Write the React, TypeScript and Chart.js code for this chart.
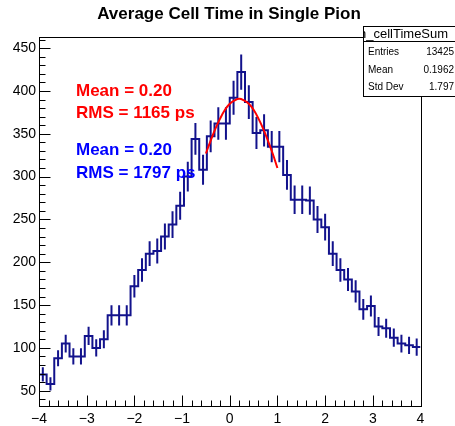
import React, { useEffect, useRef } from "react";
import { Chart, registerables } from "chart.js";

Chart.register(...registerables);

// ---- data ----
const xMin = -4;
const xMax = 4;
const binWidth = 0.16;
const counts = [
  69, 58, 88, 105, 90, 90, 114, 100, 110, 138,
  138, 138, 172, 191, 210, 213, 230, 244, 266, 300,
  344, 308, 347, 362, 362, 392, 422, 387, 351, 354,
  335, 335, 302, 273, 273, 272, 250, 241, 210, 191,
  180, 166, 145, 149, 125, 123, 112, 105, 103, 101,
];
const xTicks = [-4, -3, -2, -1, 0, 1, 2, 3, 4];
const yTicks = [50, 100, 150, 200, 250, 300, 350, 400, 450];
const yMin = 31;
const yMax = 463;
const fitX = [-0.5, -0.4, -0.3, -0.2, -0.1, 0.0, 0.1, 0.2, 0.3, 0.4, 0.5, 0.6, 0.7, 0.8, 0.9, 1.0];
const fitY = [327, 342, 356, 368, 378, 385, 389, 391, 389, 385, 378, 368, 356, 342, 327, 310];
const titleText = "Average Cell Time in Single Pion";
const statsName = "h_cellTimeSum";
const statsLabels = ["Entries", "Mean", "Std Dev"];
const statsValues = ["13425", "0.1962", "1.797"];
const fitLines = ["Mean = 0.20", "RMS = 1165 ps"];
const histLines = ["Mean = 0.20", "RMS = 1797 ps"];

const FONT = "'Liberation Sans', Arial, Helvetica, sans-serif";
const HIST_COLOR = "#12128c";
const FIT_COLOR = "#ff0000";

const fmt = (v: number) => (v < 0 ? "\u2212" + String(-v) : String(v));

const rootPlugin = {
  id: "rootStyle",
  beforeDatasetsDraw(chart: any) {
    const { ctx, scales } = chart;
    const xs = scales.x;
    const ys = scales.y;
    ctx.save();
    ctx.strokeStyle = HIST_COLOR;
    ctx.lineWidth = 2;
    ctx.beginPath();
    counts.forEach((c, i) => {
      const xc = xMin + (i + 0.5) * binWidth;
      const err = Math.sqrt(c);
      const px = xs.getPixelForValue(xc);
      ctx.moveTo(px, ys.getPixelForValue(c - err));
      ctx.lineTo(px, ys.getPixelForValue(c + err));
    });
    ctx.stroke();
    ctx.restore();
  },
  afterDatasetsDraw(chart: any) {
    const { ctx, chartArea, scales } = chart;
    const xs = scales.x;
    const ys = scales.y;
    const L = Math.round(chartArea.left) + 0.5;
    const R = Math.round(chartArea.right) + 0.5;
    const T = Math.round(chartArea.top) + 0.5;
    const B = Math.round(chartArea.bottom) - 0.5;
    ctx.save();
    ctx.strokeStyle = "#000";
    ctx.lineWidth = 1;
    ctx.strokeRect(L, T, R - L, B - T);
    ctx.beginPath();
    // x ticks (inward, upward)
    for (let k = 0; k <= 40; k++) {
      const v = xMin + k * 0.2;
      const px = Math.round(xs.getPixelForValue(v)) + 0.5;
      const len = k % 5 === 0 ? 11 : 6;
      ctx.moveTo(px, B);
      ctx.lineTo(px, B - len);
    }
    // y ticks (inward, rightward)
    for (let v = Math.ceil(yMin / 10) * 10; v <= yMax; v += 10) {
      const py = Math.round(ys.getPixelForValue(v)) + 0.5;
      const len = v % 50 === 0 ? 11 : 6;
      ctx.moveTo(L, py);
      ctx.lineTo(L + len, py);
    }
    ctx.stroke();
    ctx.restore();
  },
  afterDraw(chart: any) {
    const { ctx } = chart;
    ctx.save();
    // title
    ctx.fillStyle = "#000";
    ctx.font = `bold 17px ${FONT}`;
    ctx.textAlign = "center";
    ctx.textBaseline = "alphabetic";
    ctx.fillText(titleText, 229, 19);

    // annotation texts
    ctx.textAlign = "left";
    ctx.font = `bold 17px ${FONT}`;
    ctx.fillStyle = "#ff0000";
    ctx.fillText(fitLines[0], 76, 95.5);
    ctx.fillText(fitLines[1], 76, 117.5);
    ctx.fillStyle = "#0000ff";
    ctx.fillText(histLines[0], 76, 155);
    ctx.fillText(histLines[1], 76, 178);

    // stats box
    const bx = 363.5;
    const by = 26.5;
    const bw = 100;
    const bh = 70;
    ctx.fillStyle = "#fff";
    ctx.fillRect(bx, by, bw, bh);
    ctx.strokeStyle = "#000";
    ctx.lineWidth = 1;
    ctx.strokeRect(bx, by, bw, bh);
    ctx.beginPath();
    ctx.moveTo(bx, 41.5);
    ctx.lineTo(bx + bw, 41.5);
    ctx.stroke();
    ctx.save();
    ctx.beginPath();
    ctx.rect(bx + 0.5, by + 0.5, bw, 14.5);
    ctx.clip();
    ctx.fillStyle = "#000";
    ctx.font = `13px ${FONT}`;
    ctx.textAlign = "left";
    ctx.fillText(statsName, 359, 37.5);
    ctx.restore();
    ctx.fillStyle = "#000";
    ctx.font = `10px ${FONT}`;
    const rowsY = [54.5, 72.5, 90];
    statsLabels.forEach((lab, i) => {
      ctx.textAlign = "left";
      ctx.fillText(lab, 368, rowsY[i]);
      ctx.textAlign = "right";
      ctx.fillText(statsValues[i], 454, rowsY[i]);
    });
    ctx.restore();
  },
};

export default function App() {
  const canvasRef = useRef<HTMLCanvasElement | null>(null);

  useEffect(() => {
    const canvas = canvasRef.current;
    if (!canvas) return;
    const histPoints = counts.map((c, i) => ({ x: xMin + i * binWidth, y: c }));
    histPoints.push({ x: xMax, y: counts[counts.length - 1] });
    const fitPoints = fitX.map((x, i) => ({ x, y: fitY[i] }));

    const chart = new Chart(canvas, {
      type: "line",
      data: {
        datasets: [
          {
            label: "fit",
            data: fitPoints,
            borderColor: FIT_COLOR,
            borderWidth: 2,
            pointRadius: 0,
            tension: 0.4,
            fill: false,
            order: 0,
          },
          {
            label: "hist",
            data: histPoints,
            borderColor: HIST_COLOR,
            borderWidth: 2,
            pointRadius: 0,
            stepped: true,
            fill: false,
            order: 1,
          },
        ],
      },
      options: {
        animation: false,
        responsive: false,
        maintainAspectRatio: false,
        layout: { padding: { top: 37, right: 34.5, left: 0, bottom: 0 } },
        plugins: {
          legend: { display: false },
          tooltip: { enabled: false },
          title: { display: false },
        },
        scales: {
          x: {
            type: "linear",
            min: xMin,
            max: xMax,
            grid: { display: false, drawTicks: false },
            border: { display: false },
            afterBuildTicks: (s: any) => {
              s.ticks = xTicks.map((v) => ({ value: v }));
            },
            afterFit: (s: any) => {
              s.height = 19;
            },
            ticks: {
              autoSkip: false,
              maxRotation: 0,
              minRotation: 0,
              padding: 4,
              color: "#000",
              font: { family: FONT, size: 14 },
              callback: (v: any) => fmt(Number(v)),
            },
          },
          y: {
            type: "linear",
            min: yMin,
            max: yMax,
            grid: { display: false, drawTicks: false },
            border: { display: false },
            afterBuildTicks: (s: any) => {
              s.ticks = yTicks.map((v) => ({ value: v }));
            },
            afterFit: (s: any) => {
              s.width = 39;
            },
            ticks: {
              autoSkip: false,
              padding: 3,
              color: "#000",
              font: { family: FONT, size: 14 },
              callback: (v: any) => fmt(Number(v)),
            },
          },
        },
      } as any,
      plugins: [rootPlugin as any],
    });
    return () => chart.destroy();
  }, []);

  return (
    <div style={{ position: "fixed", left: 0, top: 0, width: 455, height: 426, background: "#fff" }}>
      <canvas ref={canvasRef} width={455} height={426} style={{ display: "block" }} />
    </div>
  );
}
